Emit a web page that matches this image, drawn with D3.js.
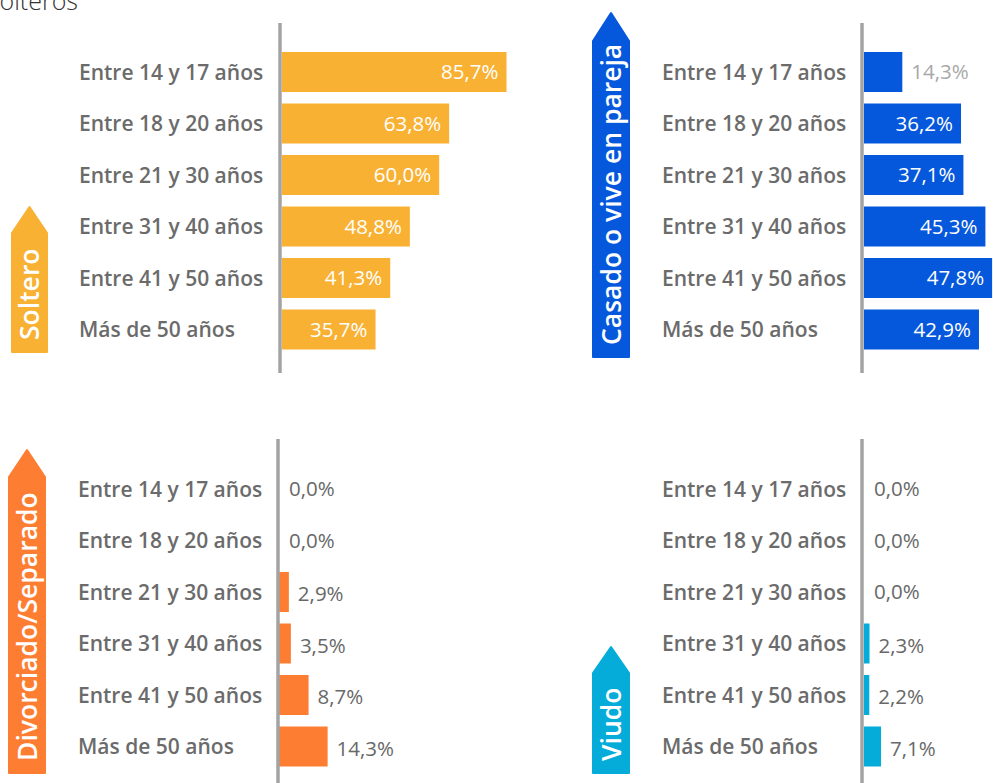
<!DOCTYPE html>
<html>
<head>
<meta charset="utf-8">
<script src="https://cdn.jsdelivr.net/npm/d3@7/dist/d3.min.js"></script>
<style>
  html, body { margin: 0; padding: 0; background: #ffffff; overflow: hidden; }
  svg { display: block; }
</style>
</head>
<body>
<svg id="chart" width="993" height="783"></svg>
<script>
// ---------- DATA ----------
const headerText = "Solteros";
const categories = [
  "Entre 14 y 17 años",
  "Entre 18 y 20 años",
  "Entre 21 y 30 años",
  "Entre 31 y 40 años",
  "Entre 41 y 50 años",
  "Más de 50 años"
];
const panelTitles = ["Soltero", "Casado o vive en pareja", "Divorciado/Separado", "Viudo"];
const solteroValues    = [85.7, 63.8, 60.0, 48.8, 41.3, 35.7];
const casadoValues     = [14.3, 36.2, 37.1, 45.3, 47.8, 42.9];
const divorciadoValues = [0.0, 0.0, 2.9, 3.5, 8.7, 14.3];
const viudoValues      = [0.0, 0.0, 0.0, 2.3, 2.2, 7.1];

// ---------- LAYOUT / STYLE ----------
const panels = [
  { title: panelTitles[0], values: solteroValues, color: "#F8B133",
    axisX: 280, barX: 282, rowTop: 52, lineTop: 23, lineBottom: 373, labelX: 79, pxMax: 262,
    tab: { x: 12, w: 35, apex: 207, top: 233, bottom: 352 }, outColor: "#a8a8a8" },
  { title: panelTitles[1], values: casadoValues, color: "#0558DC",
    axisX: 862, barX: 864, rowTop: 52, lineTop: 23, lineBottom: 373, labelX: 662, pxMax: 268,
    tab: { x: 593, w: 36, apex: 13, top: 41, bottom: 357 }, outColor: "#a8a8a8" },
  { title: panelTitles[2], values: divorciadoValues, color: "#FD7E32",
    axisX: 278, barX: 279, rowTop: 469, lineTop: 439, lineBottom: 790, labelX: 78, pxMax: 340,
    tab: { x: 9, w: 36, apex: 450, top: 477, bottom: 773 }, outColor: "#686868" },
  { title: panelTitles[3], values: viudoValues, color: "#05ACDA",
    axisX: 862, barX: 864, rowTop: 469, lineTop: 439, lineBottom: 790, labelX: 662, pxMax: 240,
    tab: { x: 593, w: 36, apex: 647, top: 673, bottom: 773 }, outColor: "#686868" }
];

const step = 51.5, barH = 40;
const pad = (step - barH) / step;
const locale = d3.formatLocale({ decimal: ",", thousands: ".", grouping: [3], currency: ["", "€"] });
const fmt = v => locale.format(".1f")(v) + "%";

const svg = d3.select("#chart");

// header (cropped title, as in the source image)
svg.append("text")
  .attr("x", 78).attr("y", 10)
  .attr("text-anchor", "end")
  .attr("font-family", "'Open Sans', sans-serif")
  .attr("font-weight", 300)
  .attr("font-size", 25)
  .attr("fill", "#333")
  .text(headerText);

panels.forEach(p => {
  const g = svg.append("g");
  const y = d3.scaleBand()
    .domain(categories)
    .range([p.rowTop - step * pad / 2, p.rowTop - step * pad / 2 + step * categories.length])
    .paddingInner(pad).paddingOuter(pad / 2);
  const x = d3.scaleLinear().domain([0, 100]).range([p.barX, p.barX + p.pxMax]);
  const data = categories.map((c, i) => ({ c, v: p.values[i] }));

  // category labels
  g.selectAll("text.cat").data(data).join("text")
    .attr("class", "cat")
    .attr("x", p.labelX)
    .attr("y", d => y(d.c) + y.bandwidth() / 2)
    .attr("dy", "0.36em")
    .attr("font-family", "'Open Sans', sans-serif")
    .attr("font-weight", 600)
    .attr("font-size", 21)
    .attr("fill", "#6b6b6b")
    .text(d => d.c);

  // bars
  g.selectAll("rect.bar").data(data).join("rect")
    .attr("class", "bar")
    .attr("x", x(0))
    .attr("y", d => y(d.c))
    .attr("width", d => x(d.v) - x(0))
    .attr("height", y.bandwidth())
    .attr("fill", p.color);

  // axis line
  g.append("line")
    .attr("x1", p.axisX).attr("x2", p.axisX)
    .attr("y1", p.lineTop).attr("y2", p.lineBottom)
    .attr("stroke", "#a3a3a3").attr("stroke-width", 3.5);

  // value labels
  g.selectAll("text.val").data(data).join("text")
    .attr("class", "val")
    .each(function (d) {
      const w = x(d.v) - x(0);
      const inside = w > 60;
      const t = d3.select(this);
      if (inside) {
        t.attr("x", x(d.v) - 8).attr("text-anchor", "end").attr("fill", "#ffffff");
      } else {
        const gap = d.v === 0 ? 10 : 9;
        t.attr("x", Math.max(x(d.v), p.axisX) + gap).attr("text-anchor", "start").attr("fill", p.outColor);
      }
    })
    .attr("y", d => y(d.c) + y.bandwidth() / 2 + (p.rowTop > 400 && d.v > 0 ? 2 : 0))
    .attr("dy", "0.36em")
    .attr("font-family", "'Open Sans', sans-serif")
    .attr("font-weight", 400)
    .attr("font-size", 20.5)
    .text(d => fmt(d.v));

  // tab
  const t = p.tab;
  g.append("path")
    .attr("d", d3.line()([
      [t.x, t.bottom], [t.x, t.top], [t.x + t.w / 2, t.apex],
      [t.x + t.w, t.top], [t.x + t.w, t.bottom]
    ]) + "Z")
    .attr("fill", p.color)
    .attr("stroke", p.color)
    .attr("stroke-linejoin", "round")
    .attr("stroke-width", 2);

  const cx = t.x + t.w / 2;
  const textBottom = t.bottom - 12;
  g.append("text")
    .attr("transform", `translate(${cx},${textBottom}) rotate(-90)`)
    .attr("x", 0).attr("y", 0)
    .attr("dy", "0.36em")
    .attr("text-anchor", "start")
    .attr("font-family", "'Open Sans', sans-serif")
    .attr("font-weight", 600)
    .attr("font-size", 26.5)
    .attr("fill", "#ffffff")
    .text(p.title);
});
</script>
</body>
</html>
